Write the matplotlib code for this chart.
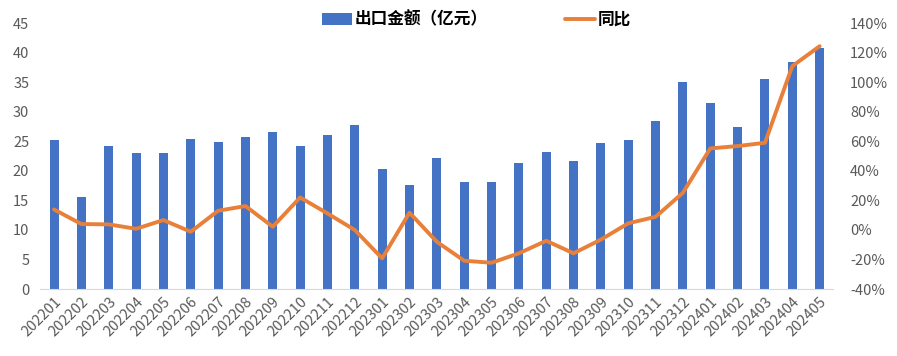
import numpy as np
import matplotlib.pyplot as plt
from matplotlib.ticker import FuncFormatter

plt.rcParams['font.family'] = ['Noto Sans CJK SC', 'DejaVu Sans']

months = ['202201', '202202', '202203', '202204', '202205', '202206', '202207',
          '202208', '202209', '202210', '202211', '202212', '202301', '202302',
          '202303', '202304', '202305', '202306', '202307', '202308', '202309',
          '202310', '202311', '202312', '202401', '202402', '202403', '202404',
          '202405']
export_amount = [25.2, 15.6, 24.2, 23.0, 23.1, 25.4, 24.9, 25.8, 26.5, 24.2,
                 26.0, 27.7, 20.3, 17.6, 22.2, 18.1, 18.1, 21.3, 23.2, 21.6,
                 24.8, 25.2, 28.4, 35.0, 31.5, 27.5, 35.6, 38.4, 40.8]
yoy = [13.9, 4.0, 3.8, 0.8, 6.7, -1.2, 13.0, 16.2, 2.2, 22.0,
       11.2, 0.0, -19.2, 11.7, -8.0, -20.8, -22.2, -15.8, -7.3, -15.8,
       -6.5, 4.5, 8.9, 25.2, 55.2, 56.8, 59.0, 110.9, 124.4]

bar_color = '#4472C4'
line_color = '#E8803A'
tick_color = '#595959'

fig = plt.figure(figsize=(8.97, 3.56), dpi=100)
ax = fig.add_axes([0.045, 0.188, 0.884, 0.747])
ax2 = ax.twinx()

x = np.arange(len(months))
b = ax.bar(x, export_amount, width=0.33, color=bar_color, label='出口金额（亿元）', zorder=2)
l, = ax2.plot(x, yoy, color=line_color, lw=2.8, label='同比', zorder=3, solid_capstyle='round')

ax.set_xlim(-0.5, len(months) - 0.5)
ax.set_ylim(0, 45)
ax.set_yticks(range(0, 46, 5))
ax2.set_ylim(-40, 140)
ax2.set_yticks(range(-40, 141, 20))
ax2.yaxis.set_major_formatter(FuncFormatter(lambda v, p: f'{int(v)}%'))

ax.set_xticks(x)
ax.set_xticklabels(months, rotation=45, ha='right', rotation_mode='anchor')

for a in (ax, ax2):
    for s in a.spines.values():
        s.set_visible(False)
    a.tick_params(length=0, colors=tick_color, labelsize=10.5)
ax.spines['bottom'].set_visible(True)
ax.spines['bottom'].set_color('#d9d9d9')
ax.tick_params(axis='y', pad=8)
ax.tick_params(axis='x', pad=4)
ax2.tick_params(axis='y', pad=12)

fig.legend(handles=[b, l], labels=['出口金额（亿元）', '同比'], loc='center',
           bbox_to_anchor=(0.531, 0.945), ncol=2, frameon=False, columnspacing=4.6,
           handlelength=1.8, handletextpad=0.2,
           prop={'weight': 'bold', 'size': 12})

fig.savefig('out.png', dpi=100)
